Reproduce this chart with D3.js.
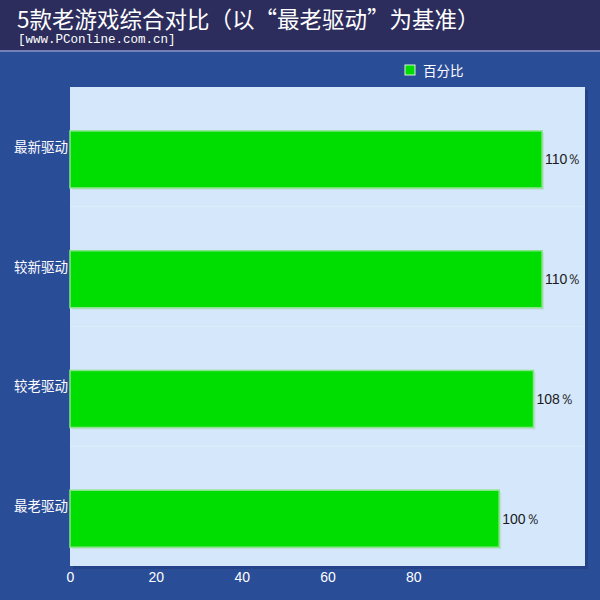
<!DOCTYPE html>
<html><head><meta charset="utf-8">
<script src="https://cdn.jsdelivr.net/npm/d3@7"></script>
<style>body{margin:0;background:#2a4d98;} svg{display:block;}</style>
</head><body><svg id="c" width="600" height="600"></svg>
<script>
const categories = ["最新驱动", "较新驱动", "较老驱动", "最老驱动"];
const values = [110, 110, 108, 100];
const valueLabels = ["110％", "110％", "108％", "100％"];
const seriesName = "百分比";
const xTicks = [0, 20, 40, 60, 80];
const title = "5款老游戏综合对比（以“最老驱动”为基准）";
const subtitle = "[www.PConline.com.cn]";

const svg = d3.select("#c");
const W = 600, H = 600;
const cjk = "'Noto Sans CJK SC', 'Noto Sans', sans-serif";

// backgrounds
svg.append("rect").attr("x",0).attr("y",0).attr("width",W).attr("height",H).attr("fill","#2a4d98");
svg.append("rect").attr("x",0).attr("y",0).attr("width",W).attr("height",50).attr("fill","#2c2d5c");
svg.append("rect").attr("x",0).attr("y",50).attr("width",W).attr("height",2).attr("fill","#7480b8");

svg.append("text").attr("x",17).attr("y",28).attr("fill","#ffffff")
  .attr("font-family",cjk).attr("font-size",22.5).text(title);
svg.append("text").attr("x",18).attr("y",43).attr("fill","#ffffff")
  .attr("font-family","'Liberation Mono', 'DejaVu Sans Mono', monospace").attr("font-size",12.5).text(subtitle);

const m = {left:70, right:15, top:87, bottom:34};
const x = d3.scaleLinear().domain([0,120]).range([m.left, W - m.right]);
const y = d3.scaleBand().domain(categories).range([m.top, H - m.bottom]).padding(0);

// plot area with slight shadow
svg.append("rect").attr("x",m.left+3).attr("y",m.top+3)
  .attr("width",W-m.right-m.left).attr("height",H-m.bottom-m.top).attr("fill","#234288");
svg.append("rect").attr("x",m.left).attr("y",m.top)
  .attr("width",W-m.right-m.left).attr("height",H-m.bottom-m.top).attr("fill","#d5e8fb");

// faint band grid
svg.append("g").selectAll("line").data(categories.slice(1)).join("line")
  .attr("x1",m.left).attr("x2",W-m.right)
  .attr("y1",d=>y(d)).attr("y2",d=>y(d))
  .attr("stroke","#dcecfb").attr("stroke-width",1);

const bw = y.bandwidth();
const barOff = bw*0.367, barH = bw*0.476;

// bars (with a light shadow)
svg.append("g").selectAll("rect").data(values).join("rect")
  .attr("x",x(0)+2).attr("y",(d,i)=>y(categories[i])+barOff+2)
  .attr("width",d=>x(d)-x(0)).attr("height",barH)
  .attr("fill","#b8d6c8").attr("opacity",0.6);
svg.append("g").selectAll("rect").data(values).join("rect")
  .attr("x",x(0)).attr("y",(d,i)=>y(categories[i])+barOff)
  .attr("width",d=>x(d)-x(0)).attr("height",barH)
  .attr("fill","#00dd00").attr("stroke","#86e586").attr("stroke-width",1.5);

// value labels
svg.append("g").selectAll("text").data(values).join("text")
  .attr("x",d=>x(d)+3).attr("y",(d,i)=>y(categories[i])+barOff+barH/2+5)
  .attr("fill","#1a1a1a").attr("font-family","'Liberation Sans', Arial, sans-serif")
  .attr("font-size",14).text((d,i)=>valueLabels[i]);

// category labels
svg.append("g").selectAll("text").data(categories).join("text")
  .attr("x",m.left-2).attr("y",d=>y(d)+bw/2+5)
  .attr("text-anchor","end").attr("fill","#ffffff")
  .attr("font-family",cjk).attr("font-size",13.5).text(d=>d);

// x axis labels
const xa = d3.axisBottom(x).tickValues(xTicks).tickSize(0).tickPadding(6);
const gx = svg.append("g").attr("transform",`translate(0,${H-m.bottom})`).call(xa);
gx.select(".domain").remove();
gx.selectAll("text").attr("fill","#ffffff").attr("font-size",14)
  .attr("font-family","'Liberation Sans Narrow', 'Liberation Sans', Arial, sans-serif");

// legend
svg.append("rect").attr("x",405).attr("y",65).attr("width",10).attr("height",10)
  .attr("fill","#00dd00").attr("stroke","#d8f5d8").attr("stroke-width",1);
svg.append("text").attr("x",423).attr("y",76).attr("fill","#ffffff")
  .attr("font-family",cjk).attr("font-size",13.5).text(seriesName);
</script></body></html>
